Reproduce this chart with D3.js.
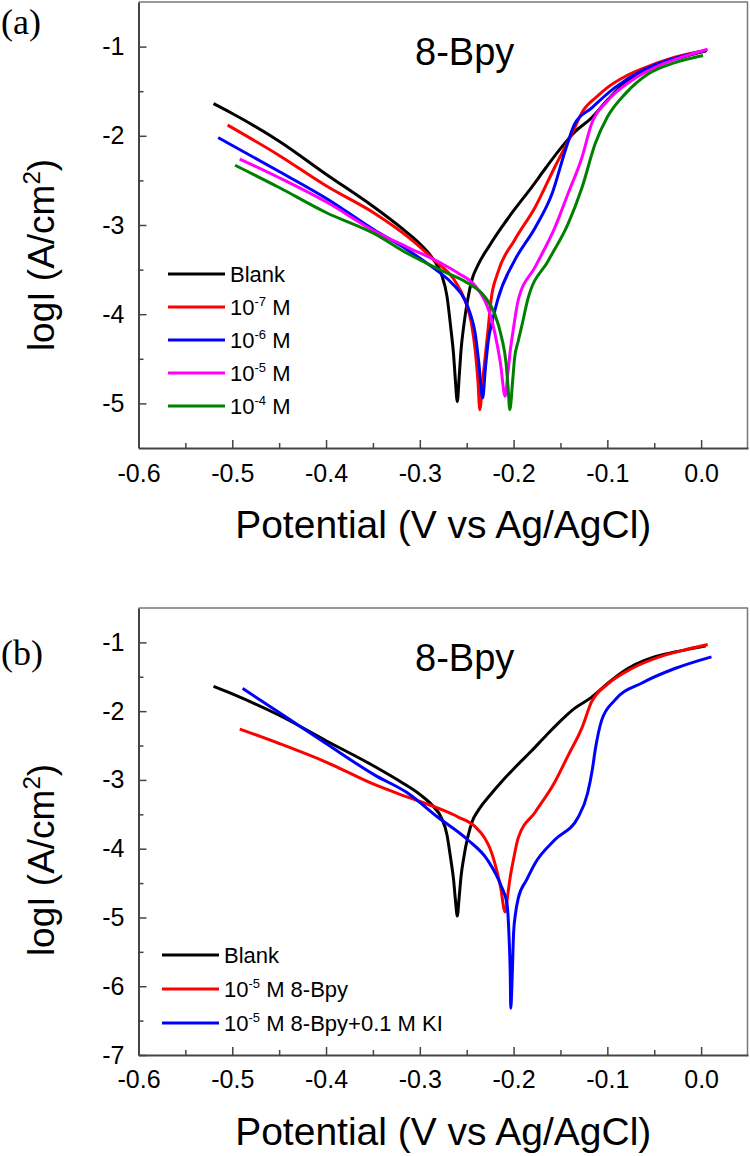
<!DOCTYPE html>
<html><head><meta charset="utf-8">
<script src="https://cdn.jsdelivr.net/npm/d3@7"></script>
<style>html,body{margin:0;padding:0;background:#fff;} svg{display:block;}</style>
</head><body>
<svg id="chart" width="750" height="1156"></svg>
<script>
// ---------- data ----------
const xTicks = [-0.6, -0.5, -0.4, -0.3, -0.2, -0.1, 0.0];
const xMinorTicks = [-0.55, -0.45, -0.35, -0.25, -0.15, -0.05];
const yTicksA = [-5, -4, -3, -2, -1];
const yMinorA = [-4.5, -3.5, -2.5, -1.5];
const yTicksB = [-7, -6, -5, -4, -3, -2, -1];
const yMinorB = [-6.5, -5.5, -4.5, -3.5, -2.5, -1.5];

// Blank (same measurement in both panels)
const blank = [[-0.520,-1.64],[-0.500,-1.75],[-0.450,-2.06],[-0.400,-2.43],[-0.350,-2.79],[-0.320,-3.03],[-0.300,-3.21],[-0.286,-3.38],[-0.277,-3.55],[-0.271,-3.80],[-0.267,-4.15],[-0.264,-4.45],[-0.262,-4.75],[-0.260,-4.98],[-0.258,-4.70],[-0.256,-4.40],[-0.253,-4.12],[-0.249,-3.84],[-0.244,-3.60],[-0.238,-3.45],[-0.225,-3.22],[-0.213,-3.03],[-0.200,-2.84],[-0.181,-2.58],[-0.165,-2.35],[-0.149,-2.13],[-0.135,-1.96],[-0.117,-1.80],[-0.100,-1.60],[-0.085,-1.44],[-0.070,-1.32],[-0.050,-1.21],[-0.028,-1.14],[-0.010,-1.09],[0.005,-1.05]];
const conc7 = [[-0.505,-1.88],[-0.450,-2.22],[-0.400,-2.56],[-0.348,-2.87],[-0.313,-3.13],[-0.284,-3.40],[-0.263,-3.62],[-0.252,-3.84],[-0.245,-4.10],[-0.241,-4.40],[-0.238,-4.75],[-0.236,-5.07],[-0.233,-4.75],[-0.230,-4.45],[-0.227,-4.15],[-0.224,-3.84],[-0.217,-3.54],[-0.199,-3.17],[-0.177,-2.80],[-0.156,-2.35],[-0.138,-1.98],[-0.126,-1.72],[-0.110,-1.55],[-0.100,-1.46],[-0.080,-1.33],[-0.063,-1.25],[-0.028,-1.12],[0.006,-1.04]];
const conc6 = [[-0.515,-2.02],[-0.450,-2.40],[-0.400,-2.70],[-0.348,-3.06],[-0.313,-3.28],[-0.287,-3.47],[-0.266,-3.65],[-0.252,-3.84],[-0.246,-4.00],[-0.241,-4.21],[-0.237,-4.55],[-0.233,-4.94],[-0.230,-4.60],[-0.227,-4.30],[-0.222,-4.05],[-0.217,-3.84],[-0.199,-3.40],[-0.177,-3.03],[-0.159,-2.65],[-0.145,-2.17],[-0.135,-1.87],[-0.117,-1.69],[-0.092,-1.46],[-0.063,-1.27],[-0.028,-1.13],[0.006,-1.04]];
const conc5 = [[-0.492,-2.26],[-0.450,-2.47],[-0.400,-2.74],[-0.348,-3.07],[-0.313,-3.25],[-0.277,-3.43],[-0.259,-3.54],[-0.241,-3.68],[-0.231,-3.84],[-0.225,-4.00],[-0.220,-4.21],[-0.214,-4.55],[-0.209,-4.92],[-0.206,-4.65],[-0.204,-4.45],[-0.200,-4.15],[-0.195,-3.84],[-0.177,-3.47],[-0.156,-3.03],[-0.142,-2.65],[-0.127,-2.24],[-0.117,-1.87],[-0.100,-1.61],[-0.074,-1.38],[-0.042,-1.20],[-0.015,-1.10],[0.007,-1.03]];
const conc4 = [[-0.497,-2.33],[-0.450,-2.58],[-0.400,-2.86],[-0.348,-3.10],[-0.313,-3.32],[-0.277,-3.51],[-0.249,-3.65],[-0.231,-3.80],[-0.220,-4.00],[-0.213,-4.25],[-0.208,-4.55],[-0.206,-4.80],[-0.204,-5.07],[-0.201,-4.75],[-0.199,-4.50],[-0.195,-4.30],[-0.191,-4.12],[-0.185,-3.84],[-0.163,-3.40],[-0.142,-2.99],[-0.127,-2.58],[-0.113,-2.09],[-0.100,-1.79],[-0.081,-1.53],[-0.057,-1.31],[-0.028,-1.18],[0.002,-1.10]];
const withKI = [[-0.489,-1.67],[-0.450,-2.02],[-0.400,-2.47],[-0.348,-2.93],[-0.313,-3.19],[-0.281,-3.54],[-0.249,-3.87],[-0.228,-4.16],[-0.213,-4.55],[-0.207,-4.80],[-0.205,-5.23],[-0.2035,-5.87],[-0.203,-6.32],[-0.2015,-5.87],[-0.200,-5.23],[-0.198,-4.95],[-0.195,-4.72],[-0.186,-4.45],[-0.177,-4.21],[-0.156,-3.87],[-0.131,-3.54],[-0.121,-3.19],[-0.116,-2.85],[-0.113,-2.57],[-0.106,-2.13],[-0.092,-1.84],[-0.063,-1.59],[-0.028,-1.38],[0.011,-1.21]];

const legendA = [["Blank"], ["10", "-7", " M"], ["10", "-6", " M"], ["10", "-5", " M"], ["10", "-4", " M"]];
const legendB = [["Blank"], ["10", "-5", " M 8-Bpy"], ["10", "-5", " M 8-Bpy+0.1 M KI"]];
const colorsA = ["#000000", "#ff0000", "#0000ff", "#ff00ff", "#008000"];
const colorsB = ["#000000", "#ff0000", "#0000ff"];

// ---------- drawing ----------
const SANS = "'Liberation Sans', Arial, sans-serif";
const svg = d3.select("#chart");
const L = 138.5, R = 748;

function panel(cfg) {
  const x = d3.scaleLinear().domain([-0.6, 0.05]).range([L, R]);
  const y = d3.scaleLinear().domain(cfg.yDomain).range([cfg.bottom, cfg.top]);
  const g = svg.append("g");

  g.append("line").attr("x1", L).attr("x2", R).attr("y1", cfg.top).attr("y2", cfg.top)
    .attr("stroke", "#777").attr("stroke-width", 1.5);
  g.append("line").attr("x1", R - 0.5).attr("x2", R - 0.5).attr("y1", cfg.top).attr("y2", cfg.bottom)
    .attr("stroke", "#777").attr("stroke-width", 1.5);

  g.append("g").attr("transform", `translate(0,${cfg.bottom})`)
    .call(d3.axisBottom(x).tickValues(xTicks).tickSize(-8).tickSizeOuter(0)
      .tickPadding(cfg.xPad).tickFormat(d => d.toFixed(1)));
  g.append("g").attr("transform", `translate(0,${cfg.bottom})`)
    .call(d3.axisBottom(x).tickValues(xMinorTicks).tickSize(-5).tickSizeOuter(0).tickFormat(""))
    .select(".domain").remove();
  g.append("g").attr("transform", `translate(${L},0)`)
    .call(d3.axisLeft(y).tickValues(cfg.yTicks).tickSize(-8).tickSizeOuter(0)
      .tickPadding(14).tickFormat(d => String(d)));
  g.append("g").attr("transform", `translate(${L},0)`)
    .call(d3.axisLeft(y).tickValues(cfg.yMinor).tickSize(-5).tickSizeOuter(0).tickFormat(""))
    .select(".domain").remove();

  g.selectAll(".domain").attr("stroke", "#444").attr("stroke-width", 2);
  g.selectAll(".tick line").attr("stroke", "#444").attr("stroke-width", 1.5);
  g.selectAll(".tick text").attr("font-family", SANS).attr("font-size", 25).attr("fill", "#000");

  const line = d3.line().x(d => x(d[0])).y(d => y(d[1])).curve(d3.curveMonotoneX);
  cfg.series.forEach((s, i) => {
    g.append("path").datum(s).attr("d", line).attr("fill", "none")
      .attr("stroke", cfg.colors[i]).attr("stroke-width", 3).attr("stroke-linejoin", "round");
  });

  cfg.legend.forEach((parts, i) => {
    const ly = cfg.legY + i * cfg.legStep;
    g.append("line").attr("x1", cfg.legX).attr("x2", cfg.legX + 57).attr("y1", ly).attr("y2", ly)
      .attr("stroke", cfg.colors[i]).attr("stroke-width", 3.2);
    const t = g.append("text").attr("x", cfg.legX + 62).attr("y", ly + 8)
      .attr("font-family", SANS).attr("font-size", 22).attr("fill", "#000");
    t.append("tspan").text(parts[0]);
    if (parts.length > 1) {
      t.append("tspan").attr("font-size", 13).attr("dy", -9).text(parts[1]);
      t.append("tspan").attr("dy", 9).text(parts[2]);
    }
  });

  g.append("text").attr("x", 415).attr("y", cfg.top + 63).attr("font-family", SANS)
    .attr("font-size", 38).attr("fill", "#000").text("8-Bpy");

  g.append("text").attr("x", 1).attr("y", cfg.letterY).attr("font-family", "'Liberation Serif', 'Times New Roman', serif")
    .attr("font-size", 36).attr("fill", "#000").text(cfg.letter);

  g.append("text").attr("x", (L + R) / 2).attr("y", cfg.xTitleY).attr("text-anchor", "middle")
    .attr("font-family", SANS).attr("font-size", 39).attr("fill", "#000")
    .text("Potential (V vs Ag/AgCl)");
  const yt = g.append("text").attr("transform", `translate(54,${cfg.yTitleC}) rotate(-90)`)
    .attr("text-anchor", "middle").attr("font-family", SANS).attr("font-size", 37).attr("fill", "#000");
  yt.append("tspan").text("logI (A/cm");
  yt.append("tspan").attr("font-size", 24).attr("dy", -14).text("2");
  yt.append("tspan").attr("dy", 14).text(")");
}

panel({
  top: 2, bottom: 448, yDomain: [-5.5, -0.5], yTicks: yTicksA, yMinor: yMinorA, xPad: 16,
  series: [blank, conc7, conc6, conc5, conc4], colors: colorsA,
  legend: legendA, legX: 168, legY: 274, legStep: 33,
  letter: "(a)", letterY: 34, xTitleY: 538, yTitleC: 255
});
panel({
  top: 608, bottom: 1055, yDomain: [-7, -0.5], yTicks: yTicksB, yMinor: yMinorB, xPad: 15,
  series: [blank, conc5, withKI], colors: colorsB,
  legend: legendB, legX: 162, legY: 955, legStep: 34,
  letter: "(b)", letterY: 665, xTitleY: 1145, yTitleC: 860
});
</script>
</body></html>
